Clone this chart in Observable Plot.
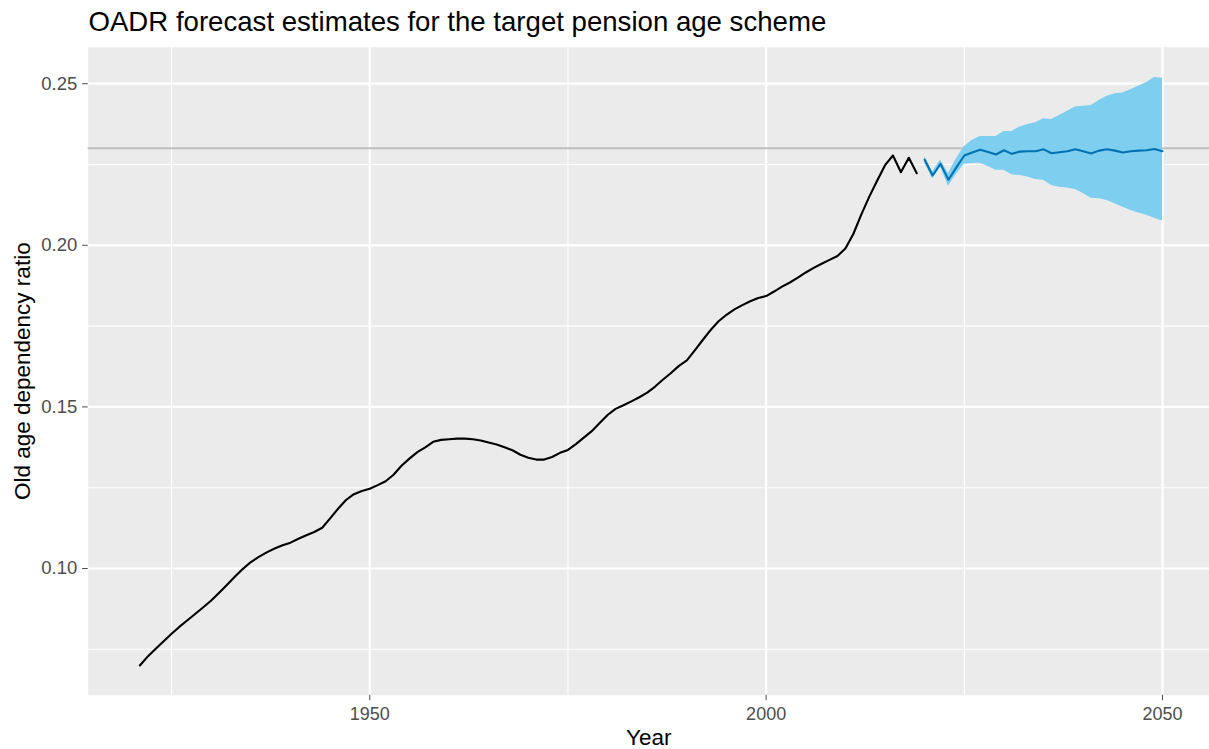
<!DOCTYPE html>
<html>
<head>
<meta charset="utf-8">
<script src="https://cdn.jsdelivr.net/npm/d3@7"></script>
<script src="https://cdn.jsdelivr.net/npm/@observablehq/plot@0.6"></script>
<style>
  html, body { margin: 0; padding: 0; background: #ffffff; }
  body { width: 1209px; height: 749px; overflow: hidden; font-family: "Liberation Sans", Arial, Helvetica, sans-serif; }
  #title { position: relative; height: 40px; }
  #title span { position: absolute; left: 88.5px; top: 7.6px; font-size: 27.6px; line-height: 27.6px; color: #000; white-space: nowrap; }
  #chart svg { display: block; }
</style>
</head>
<body>
<div id="title"><span>OADR forecast estimates for the target pension age scheme</span></div>
<div id="chart"></div>
<script>
// ---- data ----
const histStart = 1921;
const histValues = [
  0.0700, 0.0728, 0.0752, 0.0775, 0.0798, 0.0820, 0.0840, 0.0860, 0.0880, 0.0901, // 1921-1930
  0.0925, 0.0950, 0.0975, 0.0999, 0.1020, 0.1036, 0.1050, 0.1062, 0.1072, 0.1080, // 1931-1940
  0.1092, 0.1103, 0.1113, 0.1126, 0.1155, 0.1185, 0.1212, 0.1230, 0.1240, 0.1247, // 1941-1950
  0.1258, 0.1270, 0.1290, 0.1318, 0.1340, 0.1360, 0.1375, 0.1392, 0.1398, 0.1400, // 1951-1960
  0.1402, 0.1402, 0.1400, 0.1396, 0.1390, 0.1384, 0.1375, 0.1366, 0.1352, 0.1343, // 1961-1970
  0.1337, 0.1337, 0.1345, 0.1358, 0.1367, 0.1385, 0.1405, 0.1425, 0.1450, 0.1475, // 1971-1980
  0.1494, 0.1505, 0.1517, 0.1530, 0.1544, 0.1563, 0.1585, 0.1605, 0.1627, 0.1644, // 1981-1990
  0.1675, 0.1707, 0.1738, 0.1765, 0.1785, 0.1802, 0.1815, 0.1827, 0.1837, 0.1843, // 1991-2000
  0.1857, 0.1872, 0.1885, 0.1900, 0.1916, 0.1930, 0.1943, 0.1955, 0.1967, 0.1990, // 2001-2010
  0.2035, 0.2095, 0.2150, 0.2200, 0.2248, 0.2278, 0.2226, 0.2271, 0.2223          // 2011-2019
];
const fcStart = 2020;
const fcMean = [
  0.2265, 0.2216, 0.2252, 0.2203, 0.2241, 0.2278, 0.2287, 0.2296, 0.2289, 0.2281, // 2020-2029
  0.2294, 0.2283, 0.2290, 0.2291, 0.2291, 0.2297, 0.2285, 0.2288, 0.2291, 0.2297, // 2030-2039
  0.2291, 0.2284, 0.2293, 0.2297, 0.2293, 0.2287, 0.2291, 0.2293, 0.2294, 0.2298, // 2040-2049
  0.2291                                                                          // 2050
];
const fcLower = [
  0.2255, 0.2205, 0.2242, 0.2183, 0.2220, 0.2251, 0.2253, 0.2254, 0.2244, 0.2232,
  0.2232, 0.2218, 0.2216, 0.2211, 0.2204, 0.2201, 0.2185, 0.2180, 0.2177, 0.2173,
  0.2160, 0.2146, 0.2144, 0.2139, 0.2129, 0.2118, 0.2108, 0.2100, 0.2093, 0.2084,
  0.2075
];
const fcUpper = [
  0.2275, 0.2228, 0.2264, 0.2222, 0.2268, 0.2306, 0.2325, 0.2337, 0.2337, 0.2337,
  0.2352, 0.2352, 0.2366, 0.2374, 0.2379, 0.2392, 0.2389, 0.2402, 0.2415, 0.2428,
  0.2430, 0.2433, 0.2448, 0.2461, 0.2469, 0.2471, 0.2481, 0.2493, 0.2504, 0.2519,
  0.2517
];
const targetLevel = [0.23];
const xMajorTicks = [1950, 2000, 2050];
const xMinorTicks = [1925, 1975, 2025];
const yMajorTicks = [0.10, 0.15, 0.20, 0.25];
const yMinorTicks = [0.075, 0.125, 0.175, 0.225];
const xLabel = "Year";
const yLabel = "Old age dependency ratio";

// ---- tables ----
const hist = histValues.map((v, i) => ({year: histStart + i, value: v}));
const fc = fcMean.map((v, i) => ({year: fcStart + i, value: v, lo: fcLower[i], hi: fcUpper[i]}));

const font = "'Liberation Sans', Arial, Helvetica, sans-serif";
const svgHeight = 709;

const chart = Plot.plot({
  width: 1209,
  height: svgHeight,
  marginLeft: 87.7,
  marginRight: 0,
  marginTop: 6.7,
  marginBottom: 54.3,
  style: {fontFamily: font, background: "transparent", overflow: "visible"},
  x: {domain: [1914.48, 2055.93], label: null},
  y: {domain: [0.0608, 0.2613], label: null},
  marks: [
    Plot.frame({fill: "#EBEBEB", stroke: null}),
    Plot.ruleX(xMinorTicks, {stroke: "#ffffff", strokeWidth: 1.1}),
    Plot.ruleY(yMinorTicks, {stroke: "#ffffff", strokeWidth: 1.1}),
    Plot.ruleX(xMajorTicks, {stroke: "#ffffff", strokeWidth: 2.2}),
    Plot.ruleY(yMajorTicks, {stroke: "#ffffff", strokeWidth: 2.2}),
    Plot.ruleY(targetLevel, {stroke: "#BEBEBE", strokeWidth: 2}),
    Plot.areaY(fc, {x: "year", y1: "lo", y2: "hi", fill: "#7ECEF0", curve: "linear"}),
    Plot.line(hist, {x: "year", y: "value", stroke: "#000000", strokeWidth: 2.1}),
    Plot.line(fc, {x: "year", y: "value", stroke: "#0072B2", strokeWidth: 2.1}),
    Plot.axisX({ticks: xMajorTicks, tickFormat: d => String(d), tickSize: 5.5, tickPadding: 6.5,
                fontSize: 18, color: "#4D4D4D", label: null}),
    Plot.axisY({ticks: yMajorTicks, tickFormat: d3.format(".2f"), tickSize: 5.6, tickPadding: 5.3,
                fontSize: 18.5, color: "#4D4D4D", label: null}),
    Plot.text([xLabel], {frameAnchor: "bottom", dy: 42.5, lineAnchor: "middle", textAnchor: "middle",
                fontSize: 22.5, fill: "#000000"}),
    Plot.text([yLabel], {frameAnchor: "left", dx: -65.7, rotate: -90, lineAnchor: "middle", textAnchor: "middle",
                fontSize: 22.5, fill: "#000000"})
  ]
});
document.getElementById("chart").appendChild(chart);
</script>
</body>
</html>
